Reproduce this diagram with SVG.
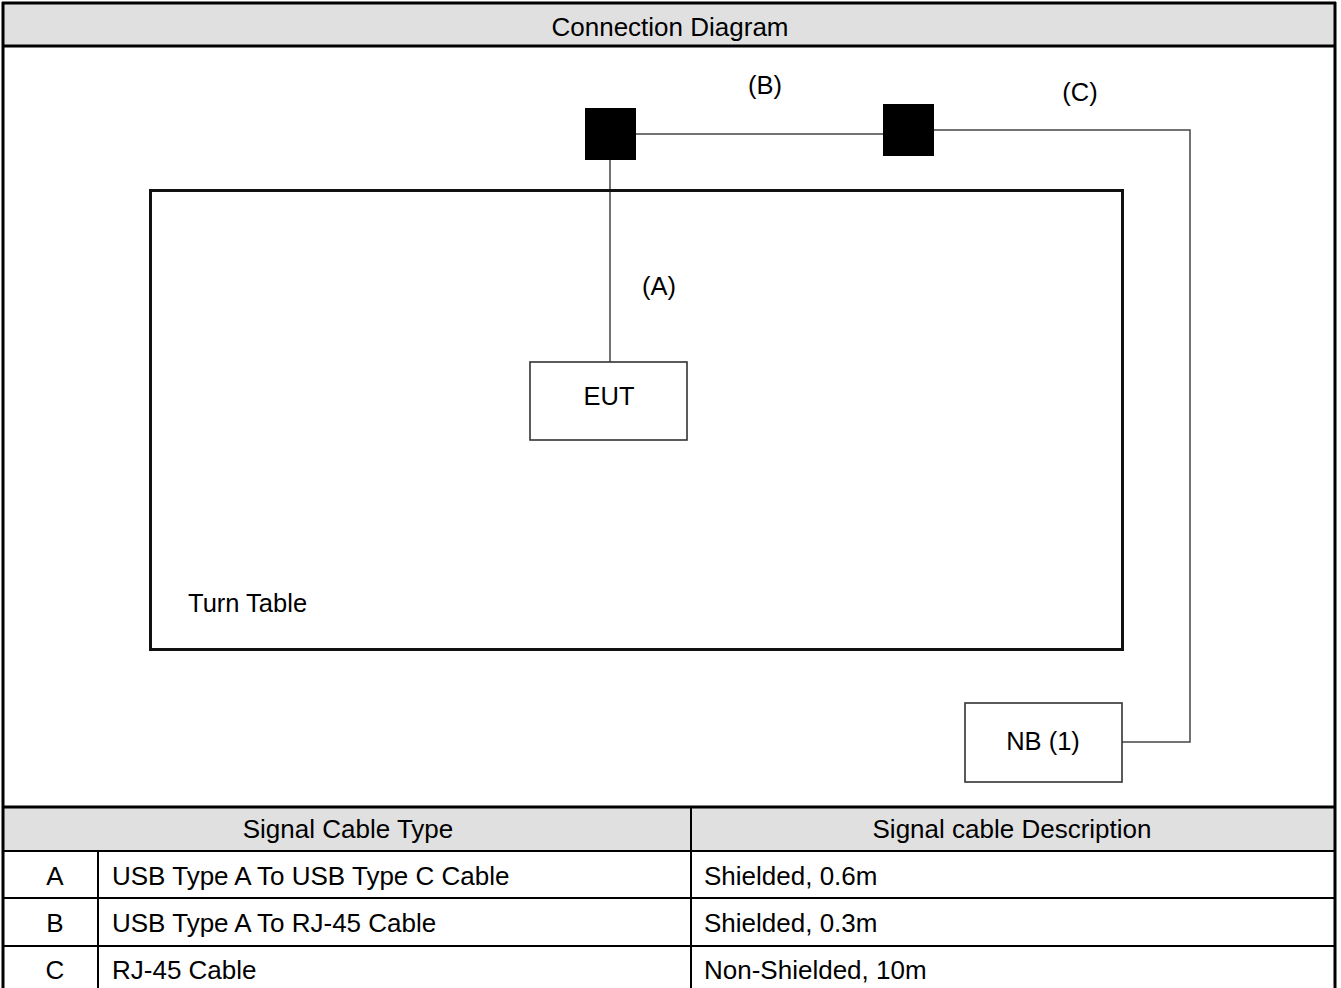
<svg xmlns="http://www.w3.org/2000/svg" width="1341" height="988" viewBox="0 0 1341 988">
<style>
text{font-family:"Liberation Sans",Arial,sans-serif;fill:#000;}
.t{font-size:26px;}
.lbl{font-size:25.5px;}
.frame{fill:none;stroke:#000;stroke-width:3;}
.grid{stroke:#000;stroke-width:2;fill:none;}
.hdr{fill:#e0e0e0;}
.box{fill:#fff;stroke:#333;stroke-width:1.6;}
.conn{fill:none;stroke:#444;stroke-width:1.5;}
.plug{fill:#000;}
</style>
<rect x="0" y="0" width="1341" height="988" fill="#fff"/>
<rect class="hdr" x="3" y="3" width="1332" height="43"/>
<text class="t" x="670" y="36" text-anchor="middle">Connection Diagram</text>
<rect class="hdr" x="3" y="807" width="1332" height="44"/>
<g id="frame">
<line class="frame" x1="3" y1="2" x2="3" y2="988"/>
<line class="frame" x1="1335" y1="2" x2="1335" y2="988"/>
<line class="frame" x1="2" y1="3" x2="1336" y2="3"/>
<line class="frame" x1="2" y1="46" x2="1336" y2="46"/>
<line class="frame" x1="2" y1="807" x2="1336" y2="807"/>
<line class="grid" x1="2" y1="851" x2="1336" y2="851"/>
<line class="grid" x1="2" y1="898" x2="1336" y2="898"/>
<line class="grid" x1="2" y1="946" x2="1336" y2="946"/>
<line class="grid" x1="691" y1="807" x2="691" y2="988"/>
<line class="grid" x1="98" y1="851" x2="98" y2="988"/>
</g>
<g id="connectors">
<line class="conn" x1="610" y1="160" x2="610" y2="362"/>
<line class="conn" x1="636" y1="134" x2="883" y2="134"/>
<polyline class="conn" points="934,130 1190,130 1190,742 1122,742"/>
</g>
<g id="turntable">
<rect x="150.5" y="190.5" width="972" height="459" fill="none" stroke="#111" stroke-width="3"/>
<text class="lbl" x="188" y="612">Turn Table</text>
</g>
<g id="plug1"><rect class="plug" x="585" y="108" width="51" height="52"/></g>
<g id="plug2"><rect class="plug" x="883" y="104" width="51" height="52"/></g>
<g id="eut">
<rect class="box" x="530" y="362" width="157" height="78"/>
<text class="lbl" x="609" y="405" text-anchor="middle">EUT</text>
</g>
<g id="nb">
<rect class="box" x="965" y="703" width="157" height="79"/>
<text class="lbl" x="1043" y="750" text-anchor="middle">NB (1)</text>
</g>
<g id="labels">
<text class="lbl" x="765" y="94" text-anchor="middle">(B)</text>
<text class="lbl" x="1080" y="101" text-anchor="middle">(C)</text>
<text class="lbl" x="659" y="295" text-anchor="middle">(A)</text>
</g>
<g id="table">
<text class="t" x="348" y="838" text-anchor="middle">Signal Cable Type</text>
<text class="t" x="1012" y="838" text-anchor="middle">Signal cable Description</text>
<text class="t" x="55" y="885" text-anchor="middle">A</text>
<text class="t" x="112" y="885">USB Type A To USB Type C Cable</text>
<text class="t" x="704" y="885">Shielded, 0.6m</text>
<text class="t" x="55" y="932" text-anchor="middle">B</text>
<text class="t" x="112" y="932">USB Type A To RJ-45 Cable</text>
<text class="t" x="704" y="932">Shielded, 0.3m</text>
<text class="t" x="55" y="979" text-anchor="middle">C</text>
<text class="t" x="112" y="979">RJ-45 Cable</text>
<text class="t" x="704" y="979">Non-Shielded, 10m</text>
</g>
</svg>
